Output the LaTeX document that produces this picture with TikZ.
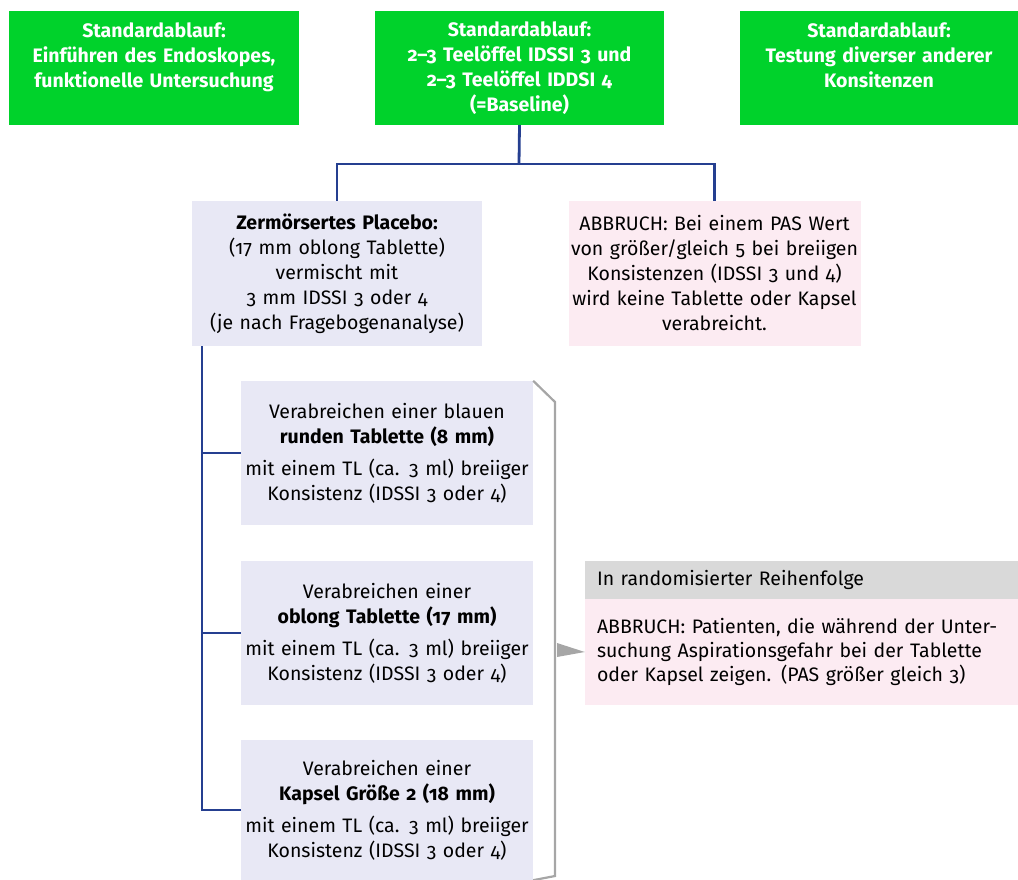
\documentclass[tikz,border=0pt]{standalone}
\usepackage{fontspec}
\setmainfont{Fira Sans}[Numbers=OldStyle]
\definecolor{stdgreen}{HTML}{00D22B}
\definecolor{linkblue}{HTML}{253F90}
\definecolor{lavender}{HTML}{E8E8F5}
\definecolor{rosa}{HTML}{FCEBF2}
\definecolor{headgray}{HTML}{D9D9D9}
\definecolor{brackgray}{HTML}{A6A6A6}
\tikzset{
  box/.style={inner xsep=0pt, inner ysep=0pt, align=center, font=\fontsize{19.5}{25}\selectfont},
  stdbox/.style={box, fill=stdgreen, text=white, font=\bfseries\fontsize{19.5}{25}\selectfont},
  testbox/.style={box, fill=lavender, text width=292pt, minimum height=144pt},
  stopbox/.style={box, fill=rosa},
  conn/.style={draw=linkblue, line width=2.8pt},
}
\begin{document}
\begin{tikzpicture}[x=1pt, y=-1pt]
\useasboundingbox (0,0) rectangle (1018,880);
% standard steps
\node[stdbox, text width=290pt, minimum height=114pt] (std1) at (154,68)
  {Standardablauf:\\Einführen des Endoskopes,\\funktionelle Untersuchung\\\mbox{}};
\node[stdbox, text width=289pt, minimum height=114pt] (std2) at (519.5,68)
  {Standardablauf:\\2–3 Teelöffel IDSSI 3 und\\2–3 Teelöffel IDDSI 4\\(=Baseline)};
\node[stdbox, text width=278pt, minimum height=114pt] (std3) at (879,68)
  {Standardablauf:\\Testung diverser anderer\\Konsitenzen\\\mbox{}};
% placebo and first stop
\node[box, fill=lavender, text width=290pt, minimum height=145pt] (placebo) at (337,273.5)
  {\textbf{Zermörsertes Placebo:}\\(17 mm oblong Tablette)\\vermischt mit\\3 mm IDSSI 3 oder 4\\(je nach Fragebogenanalyse)};
\node[stopbox, text width=292pt, minimum height=145pt] (stop1) at (714.5,273.5)
  {ABBRUCH: Bei einem PAS Wert\\von größer/gleich 5 bei breiigen\\Konsistenzen (IDSSI 3 und 4)\\wird keine Tablette oder Kapsel\\verabreicht.};
% tablets
\node[testbox] (tab1) at (387,453)
  {Verabreichen einer blauen\\\textbf{runden Tablette (8 mm)}\\[7pt]mit einem TL (ca. 3 ml) breiiger\\Konsistenz (IDSSI 3 oder 4)};
\node[testbox] (tab2) at (387,633)
  {Verabreichen einer\\\textbf{oblong Tablette (17 mm)}\\[7pt]mit einem TL (ca. 3 ml) breiiger\\Konsistenz (IDSSI 3 oder 4)};
\node[testbox, minimum height=140pt] (kapsel) at (387,810)
  {Verabreichen einer\\\textbf{Kapsel Größe 2 (18 mm)}\\[7pt]mit einem TL (ca. 3 ml) breiiger\\Konsistenz (IDSSI 3 oder 4)};
% random order
\node[box, fill=headgray, align=left, inner xsep=12pt, text width=409pt, minimum height=38pt] (random) at (801.5,580)
  {In randomisierter Reihenfolge};
\node[stopbox, align=left, inner xsep=12pt, text width=409pt, minimum height=106pt,
  font=\fontsize{19.5}{24}\selectfont] (stop2) at (801.5,652)
  {ABBRUCH: Patienten, die während der Unter-\\suchung Aspirationsgefahr bei der Tablette\\oder Kapsel zeigen. (PAS größer gleich 3)};
% connectors
\coordinate (split) at (519,164);
\coordinate (trunk) at (202,346);
\draw[conn] (std2.south) -- (split);
\draw[conn] (placebo.north) |- (split) -| (stop1.north);
\draw[conn] (trunk) |- (tab1.west);
\draw[conn] (trunk) |- (tab2.west);
\draw[conn] (trunk) |- (kapsel.west);
% bracket
\coordinate (brtop) at (555,402);
\coordinate (brbot) at (555,876);
\draw[brackgray, line width=2.2pt] (tab1.north east) -- (brtop) -- (brbot) -- (kapsel.south east);
\fill[brackgray] (557,643) -- (stop2.west) -- (557,657) -- cycle;
\end{tikzpicture}
\end{document}
